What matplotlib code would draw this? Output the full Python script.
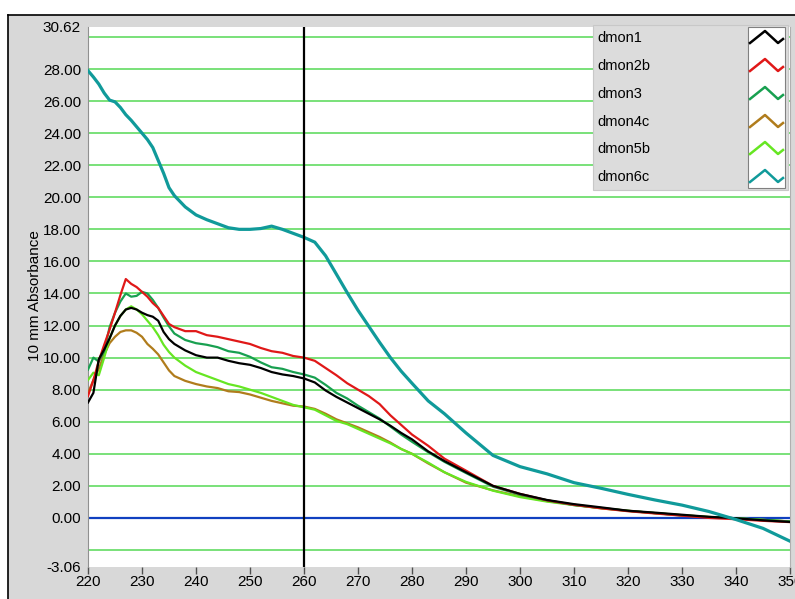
import matplotlib
matplotlib.use("Agg")
import matplotlib.pyplot as plt
from matplotlib.patches import Rectangle
from matplotlib.lines import Line2D

plt.rcParams['font.family'] = ['Liberation Sans', 'DejaVu Sans']

# wavelength grid (nm)
wavelength = [220, 221, 222, 223, 224, 225, 226, 227, 228, 229, 230, 231, 232, 233, 234, 235, 236,
              238, 240, 242, 244, 246, 248, 250, 252, 254, 256, 258, 260, 262, 264, 266, 268, 270,
              272, 274, 276, 278, 280, 283, 286, 290, 295, 300, 305, 310, 315, 320, 325, 330, 335,
              340, 345, 350]

dmon1 = [7.2, 7.8, 9.9, 10.5, 11.2, 12.0, 12.6, 13.0, 13.1, 13.0, 12.8, 12.65, 12.55, 12.3, 11.6,
         11.15, 10.85, 10.45, 10.15, 10.0, 10.0, 9.8, 9.65, 9.55, 9.35, 9.1, 8.95, 8.85, 8.7, 8.45,
         7.95, 7.55, 7.2, 6.85, 6.5, 6.15, 5.75, 5.3, 4.9, 4.15, 3.55, 2.85, 2.0, 1.5, 1.12, 0.86,
         0.66, 0.45, 0.33, 0.2, 0.07, -0.02, -0.15, -0.25]
dmon2b = [7.6, 8.6, 9.8, 10.8, 11.75, 12.8, 13.9, 14.9, 14.6, 14.4, 14.1, 13.8, 13.4, 13.1, 12.6,
          12.1, 11.9, 11.65, 11.65, 11.4, 11.3, 11.15, 11.0, 10.85, 10.6, 10.4, 10.3, 10.1, 10.0,
          9.8, 9.35, 8.9, 8.4, 8.0, 7.6, 7.1, 6.4, 5.8, 5.2, 4.5, 3.7, 2.95, 2.0, 1.5, 1.1, 0.82,
          0.6, 0.42, 0.28, 0.14, 0.0, -0.08, -0.18, -0.26]
dmon3 = [9.25, 10.0, 9.75, 10.4, 11.9, 12.8, 13.5, 14.0, 13.8, 13.85, 14.1, 14.0, 13.6, 13.1, 12.5,
         11.95, 11.5, 11.1, 10.9, 10.8, 10.65, 10.4, 10.3, 10.05, 9.7, 9.4, 9.3, 9.1, 8.95, 8.75,
         8.3, 7.8, 7.45, 7.0, 6.6, 6.2, 5.7, 5.2, 4.75, 4.1, 3.5, 2.8, 1.95, 1.45, 1.1, 0.8, 0.62,
         0.44, 0.3, 0.15, 0.04, -0.02, -0.12, -0.22]
dmon4c = [7.8, 8.6, 9.3, 10.2, 10.9, 11.3, 11.6, 11.7, 11.7, 11.55, 11.3, 10.85, 10.55, 10.2, 9.7,
          9.2, 8.85, 8.55, 8.35, 8.2, 8.1, 7.9, 7.85, 7.7, 7.5, 7.3, 7.15, 7.0, 6.95, 6.8, 6.5,
          6.15, 5.9, 5.65, 5.35, 5.05, 4.7, 4.3, 4.0, 3.4, 2.85, 2.2, 1.72, 1.35, 1.05, 0.82, 0.62,
          0.45, 0.3, 0.17, 0.06, -0.02, -0.12, -0.22]
dmon5b = [8.6, 9.06, 8.9, 10.0, 11.2, 12.0, 12.6, 13.0, 13.2, 13.0, 12.7, 12.3, 11.9, 11.4, 10.8,
          10.35, 10.0, 9.5, 9.1, 8.85, 8.6, 8.35, 8.2, 8.0, 7.8, 7.55, 7.3, 7.05, 6.9, 6.75, 6.4,
          6.05, 5.85, 5.55, 5.25, 4.95, 4.65, 4.3, 4.0, 3.45, 2.85, 2.25, 1.7, 1.3, 1.02, 0.8, 0.6,
          0.44, 0.3, 0.17, 0.06, -0.02, -0.12, -0.22]
dmon6c = [27.9, 27.5, 27.06, 26.5, 26.06, 25.95, 25.6, 25.15, 24.8, 24.4, 24.0, 23.6, 23.1, 22.3,
          21.5, 20.6, 20.1, 19.4, 18.9, 18.6, 18.35, 18.1, 18.0, 18.0, 18.05, 18.2, 18.0, 17.75,
          17.5, 17.2, 16.35, 15.2, 14.05, 12.95, 11.95, 10.95, 10.0, 9.15, 8.4, 7.3, 6.5, 5.3, 3.9,
          3.2, 2.75, 2.2, 1.85, 1.47, 1.12, 0.8, 0.4, -0.1, -0.65, -1.45]

names = ['dmon1', 'dmon2b', 'dmon3', 'dmon4c', 'dmon5b', 'dmon6c']
series = [dmon1, dmon2b, dmon3, dmon4c, dmon5b, dmon6c]
colors = ['#000000', '#e01818', '#18a050', '#b07c1c', '#66e622', '#109a9a']
zorders = [3.5, 3.4, 3.3, 3.1, 3.2, 3.6]
widths = [1.6, 1.6, 1.6, 1.6, 1.6, 2.3]

y_min, y_max = -3.06, 30.62
cursor_x = 260

W, H = 795, 599
fig = plt.figure(figsize=(W / 100, H / 100), dpi=100)
fig.patch.set_facecolor('white')

def fx(px):
    return px / W

def fy(py):
    return 1 - py / H

# gray panel with black frame at top and left
fig.patches.append(Rectangle((fx(8), 0), 1 - fx(8), fy(15), transform=fig.transFigure,
                             facecolor='#d8d8d8', edgecolor='none', zorder=-1))
fig.add_artist(Line2D([fx(8), 1], [fy(15), fy(15)], transform=fig.transFigure, color='black', lw=1.2))
fig.add_artist(Line2D([fx(8), fx(8)], [0, fy(15)], transform=fig.transFigure, color='black', lw=1.2))

ax = fig.add_axes([fx(88), fy(567), (790 - 88) / W, (567 - 27) / H])
ax.set_zorder(1)
ax.set_facecolor('white')
ax.set_xlim(220, 350)
ax.set_ylim(y_min, y_max)

# horizontal grid
for g in range(-2, 31, 2):
    if g == 0:
        ax.axhline(0, color='#1040c0', lw=1.6, zorder=2)
    else:
        ax.axhline(g, color='#55d855', lw=1.1, zorder=1)

for name, vals, c, z, lw in zip(names, series, colors, zorders, widths):
    ax.plot(wavelength, vals, color=c, lw=lw, zorder=z, label=name)

ax.axvline(cursor_x, color='black', lw=1.6, zorder=5)

ax.set_xticks(range(220, 351, 10))
ax.set_xticklabels([str(v) for v in range(220, 351, 10)], fontsize=11)
yticks = [y_min] + list(range(0, 29, 2)) + [y_max]
ax.set_yticks(yticks)
ax.set_yticklabels(['%.2f' % v for v in yticks], fontsize=11)
ax.tick_params(axis='x', direction='out', length=5, width=1, color='#505050', pad=1)
ax.tick_params(axis='y', length=0, pad=5)
for side in ['top', 'bottom']:
    ax.spines[side].set_visible(False)
ax.spines['left'].set_color('#909090')
ax.spines['right'].set_color('#b0b0b0')

fig.text(fx(35), fy(296), '10 mm Absorbance', rotation=90, ha='center', va='center', fontsize=11)

# legend drawn like the original panel
fig.patches.append(Rectangle((fx(593), fy(190)), (788 - 593) / W, (190 - 25) / H,
                             transform=fig.transFigure, facecolor='#dcdcdc', edgecolor='#c8c8c8',
                             lw=0.8, zorder=6))
fig.patches.append(Rectangle((fx(748), fy(188)), (785 - 748) / W, (188 - 27) / H,
                             transform=fig.transFigure, facecolor='white', edgecolor='#808080',
                             lw=0.8, zorder=7))
row_y = [38, 66, 94, 122, 149, 177]
for name, c, ry in zip(names, colors, row_y):
    fig.text(fx(597), fy(ry), name, ha='left', va='center', fontsize=10.5, zorder=8)
    zx = [750, 765, 778, 783]
    zy = [ry + 5, ry - 7, ry + 5, ry + 1]
    fig.add_artist(Line2D([fx(v) for v in zx], [fy(v) for v in zy], transform=fig.transFigure,
                          color=c, lw=1.8, zorder=8))

fig.savefig('out.png', dpi=100)
